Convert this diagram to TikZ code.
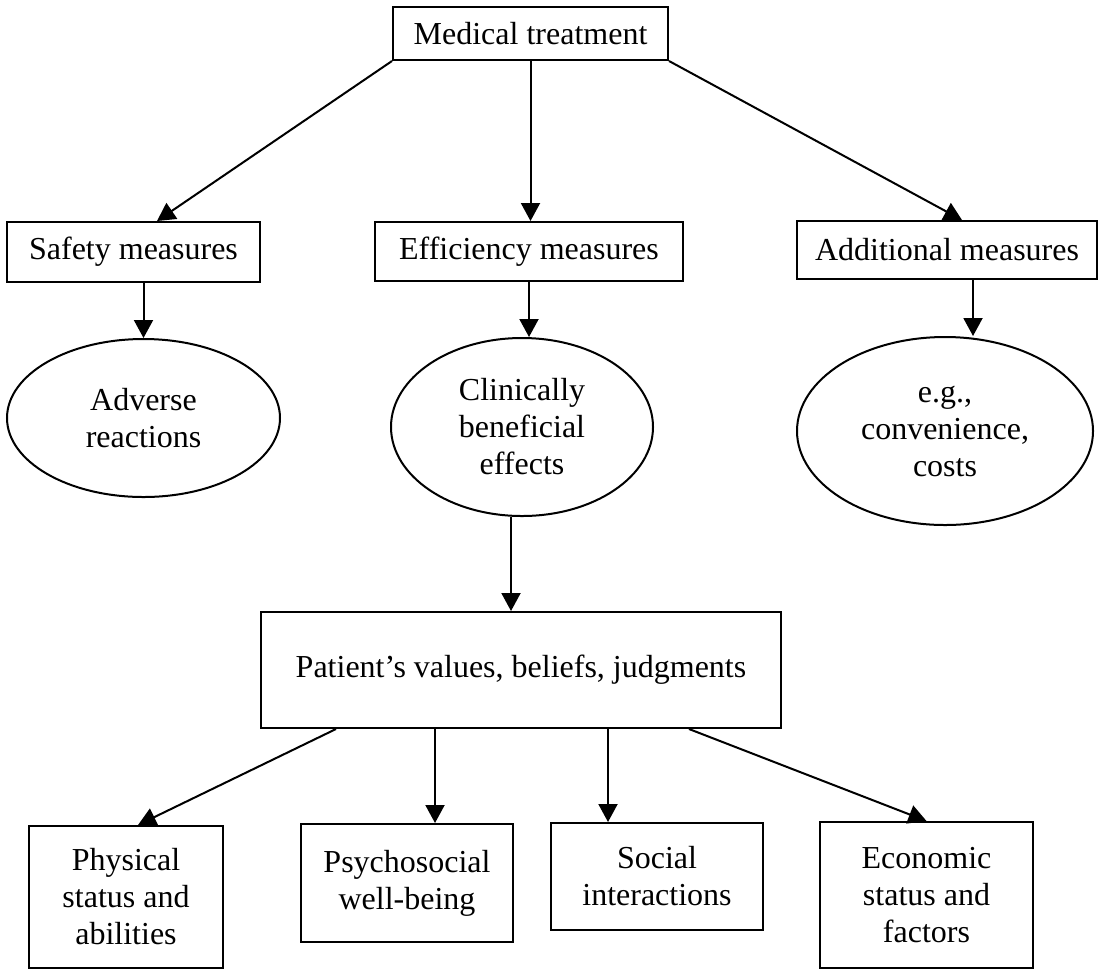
\documentclass[tikz,border=0pt]{standalone}
\usepackage{fontspec}
\setmainfont{Liberation Serif}
\usetikzlibrary{arrows.meta,shapes.geometric}

\begin{document}
\begin{tikzpicture}[x=0.5pt,y=-0.5pt,>={Triangle[length=9pt,width=9.5pt]},
  line width=1pt,
  every node/.style={font=\fontsize{16}{18.5}\selectfont,align=center},
  rect/.style={draw,rectangle,inner sep=0pt},
  oval/.style={draw,ellipse,inner sep=0pt}]
\useasboundingbox (0,0) rectangle (1101,970);
% top
\node[rect,minimum width=137.5pt,minimum height=26.5pt] (med) at (530.5,33.5) {Medical treatment};
% measures
\node[rect,minimum width=126.5pt,minimum height=30pt] (safety) at (133.5,252) {Safety measures};
\node[rect,minimum width=154pt,minimum height=29.5pt] (effic) at (529,251.5) {Efficiency measures};
\node[rect,minimum width=150pt,minimum height=29pt] (addit) at (947,250) {Additional measures};
% outcomes
\node[oval,minimum width=136.5pt,minimum height=79pt] (adverse) at (143.5,418) {Adverse\\reactions};
\node[oval,minimum width=131pt,minimum height=89pt] (clin) at (522,427) {Clinically\\beneficial\\effects};
\node[oval,minimum width=148pt,minimum height=94pt] (eg) at (945,431) {e.g.,\\convenience,\\costs};
% patient
\node[rect,minimum width=260pt,minimum height=58pt] (patient) at (521,670) {Patient's values, beliefs, judgments};
\node[rect,minimum width=97pt,minimum height=71pt] (phys) at (126,897) {Physical\\status and\\abilities};
\node[rect,minimum width=106pt,minimum height=59pt] (psych) at (407,883) {Psychosocial\\well-being};
\node[rect,minimum width=106pt,minimum height=53.5pt] (social) at (657,876.5) {Social\\interactions};
\node[rect,minimum width=106.5pt,minimum height=73pt] (econ) at (926.5,895) {Economic\\status and\\factors};

\draw[->] (med.south west) -- ([xshift=11.75pt]safety.north);
\draw[->] (med.south) -- (med.south |- effic.north);
\draw[->] (med.south east) -- ([xshift=7.5pt]addit.north);
\draw[->] (safety.south -| adverse.north) -- (adverse.north);
\draw[->] (effic.south) -- (effic.south |- clin.north);
\draw[->] ([xshift=13pt]addit.south) -- ([xshift=13pt]addit.south |- eg.north);
\draw[->] ([xshift=-5.5pt]clin.south) -- ([xshift=-5.5pt]clin.south |- patient.north);
\draw[->] ([xshift=38pt]patient.south west) -- ([xshift=6pt]phys.north);
\draw[->] ([xshift=14pt]psych.north |- patient.south) -- ([xshift=14pt]psych.north);
\draw[->] ([xshift=-24.5pt]social.north |- patient.south) -- ([xshift=-24.5pt]social.north);
\draw[->] ([xshift=-46.5pt]patient.south east) -- (econ.north);
\end{tikzpicture}
\end{document}
